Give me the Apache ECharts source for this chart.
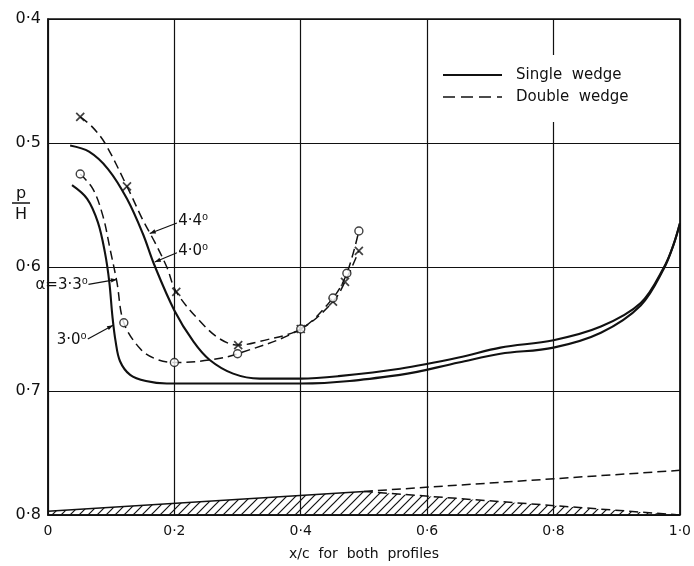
<!DOCTYPE html>
<html>
<head>
<meta charset="utf-8">
<script src="https://cdn.jsdelivr.net/npm/echarts@6/dist/echarts.min.js"></script>
<style>html,body{margin:0;padding:0;background:#fff}#c{width:694px;height:566px}</style>
</head>
<body>
<div id="c"></div>
<script>
// ---------- data ----------
const xTickLabels = ['0', '0·2', '0·4', '0·6', '0·8', '1·0'];
const yTickLabels = ['0·4', '0·5', '0·6', '0·7', '0·8'];
const legendNames = ['Single wedge', 'Double wedge'];

// Single wedge, alpha = 4.0 deg (solid)
const sw40X = [0.035, 0.065, 0.095, 0.125, 0.150, 0.168, 0.200, 0.230, 0.256, 0.293, 0.335, 0.400, 0.460, 0.557, 0.650, 0.716, 0.800, 0.875, 0.938, 0.975, 0.990, 1.000];
const sw40Y = [0.502, 0.507, 0.521, 0.545, 0.573, 0.598, 0.635, 0.660, 0.675, 0.686, 0.690, 0.690, 0.688, 0.682, 0.673, 0.665, 0.659, 0.648, 0.629, 0.600, 0.582, 0.565];
// Single wedge, alpha = 3.3 deg (solid)
const sw33X = [0.038, 0.062, 0.079, 0.090, 0.097, 0.102, 0.107, 0.114, 0.130, 0.155, 0.188, 0.250, 0.300, 0.400, 0.557, 0.650, 0.716, 0.800, 0.875, 0.938, 0.975, 0.990, 1.000];
const sw33Y = [0.534, 0.545, 0.564, 0.588, 0.612, 0.640, 0.660, 0.676, 0.687, 0.692, 0.694, 0.694, 0.694, 0.694, 0.687, 0.677, 0.670, 0.665, 0.653, 0.631, 0.601, 0.582, 0.565];
// Double wedge, alpha = 4.4 deg (dashed, x markers)
const dw44X = [0.051, 0.070, 0.090, 0.125, 0.150, 0.169, 0.188, 0.203, 0.241, 0.272, 0.301, 0.335, 0.400, 0.451, 0.470, 0.492];
const dw44Y = [0.479, 0.487, 0.500, 0.535, 0.562, 0.580, 0.600, 0.620, 0.644, 0.658, 0.663, 0.660, 0.650, 0.628, 0.612, 0.587];
const dw44MarkX = [0.051, 0.125, 0.203, 0.301, 0.400, 0.451, 0.470, 0.492];
const dw44MarkY = [0.479, 0.535, 0.620, 0.663, 0.650, 0.628, 0.612, 0.587];
// Double wedge, alpha = 3.0 deg (dashed, o markers)
const dw30X = [0.051, 0.071, 0.087, 0.098, 0.109, 0.120, 0.146, 0.170, 0.200, 0.256, 0.300, 0.400, 0.451, 0.473, 0.492];
const dw30Y = [0.525, 0.537, 0.559, 0.585, 0.612, 0.645, 0.666, 0.674, 0.677, 0.675, 0.670, 0.650, 0.625, 0.605, 0.571];
const dw30MarkX = [0.051, 0.120, 0.200, 0.300, 0.400, 0.451, 0.473, 0.492];
const dw30MarkY = [0.525, 0.645, 0.677, 0.670, 0.650, 0.625, 0.605, 0.571];

// Profiles drawn along the bottom
const profFrontX = [0, 0.5];
const profFrontY = [0.797, 0.781];
const doubleRearX = [0.5, 1.0];
const doubleRearY = [0.781, 0.800];
const singleRearX = [0.5, 1.0];
const singleRearY = [0.781, 0.764];
const doubleProfX = [0, 0.5, 1.0];
const doubleProfY = [0.797, 0.781, 0.800];

// annotation texts
const annTexts = ['4·4⁰', '4·0⁰', 'α=3·3⁰', '3·0⁰'];
// ---------- end data ----------

const zip = (xs, ys) => xs.map((x, i) => [x, ys[i]]);
const INK = '#111';
const FONT = 'DejaVu Sans';

function hatchCanvas() {
  const s = 9;
  const c = document.createElement('canvas');
  c.width = s; c.height = s;
  const g = c.getContext('2d');
  g.strokeStyle = INK; g.lineWidth = 1.2;
  g.beginPath();
  g.moveTo(0, s); g.lineTo(s, 0);
  g.moveTo(-2, 2); g.lineTo(2, -2);
  g.moveTo(s - 2, s + 2); g.lineTo(s + 2, s - 2);
  g.stroke();
  return c;
}

const chart = echarts.init(document.getElementById('c'), null, {renderer: 'canvas'});

const solidStyle = {color: INK, width: 2.1, type: 'solid'};
const dashStyle = {color: INK, width: 1.5, type: [9, 5]};

const option = {
  backgroundColor: '#fff',
  animation: false,
  color: [INK],
  textStyle: {fontFamily: FONT, color: INK},
  grid: {left: 48, right: 14, top: 19, bottom: 48, show: true, borderColor: INK, borderWidth: 1.5, backgroundColor: 'transparent'},
  xAxis: {
    type: 'value', min: 0, max: 1, interval: 0.2,
    name: 'x/c  for  both  profiles', nameLocation: 'middle', nameGap: 32,
    nameTextStyle: {fontFamily: FONT, fontSize: 14, color: INK},
    axisLine: {show: true, lineStyle: {color: INK, width: 1.5}},
    axisTick: {show: false},
    axisLabel: {fontFamily: FONT, fontSize: 14, color: INK, margin: 9,
      formatter: v => xTickLabels[Math.round(v / 0.2)]},
    splitLine: {show: true, lineStyle: {color: INK, width: 1.2}}
  },
  yAxis: {
    type: 'value', min: 0.4, max: 0.8, interval: 0.1, inverse: true,
    axisLine: {show: true, lineStyle: {color: INK, width: 1.5}},
    axisTick: {show: false},
    axisLabel: {fontFamily: FONT, fontSize: 16, color: INK, margin: 7,
      formatter: v => yTickLabels[Math.round((v - 0.4) / 0.1)]},
    splitLine: {show: true, lineStyle: {color: INK, width: 1.2}}
  },
  series: [
    {name: 'Double wedge profile', type: 'line', data: zip(doubleProfX, doubleProfY), symbol: 'none',
      lineStyle: {width: 0, opacity: 0},
      areaStyle: {color: {image: hatchCanvas(), repeat: 'repeat'}, origin: 'end', opacity: 1}, z: 1},
    {name: 'Profile front', type: 'line', data: zip(profFrontX, profFrontY), symbol: 'none', lineStyle: {color: INK, width: 1.6}, z: 3},
    {name: 'Double wedge rear', type: 'line', data: zip(doubleRearX, doubleRearY), symbol: 'none', lineStyle: {color: INK, width: 1.5, type: [9, 5]}, z: 3},
    {name: 'Single wedge rear', type: 'line', data: zip(singleRearX, singleRearY), symbol: 'none', lineStyle: {color: INK, width: 1.5, type: [9, 5]}, z: 3},

    {name: legendNames[0], type: 'line', data: zip(sw40X, sw40Y), symbol: 'none', smooth: 0.35, lineStyle: solidStyle, z: 4},
    {name: legendNames[0], type: 'line', data: zip(sw33X, sw33Y), symbol: 'none', smooth: 0.35, lineStyle: solidStyle, z: 4},
    {name: legendNames[1], type: 'line', data: zip(dw44X, dw44Y), symbol: 'none', smooth: 0.35, lineStyle: dashStyle, z: 4},
    {name: legendNames[1], type: 'line', data: zip(dw30X, dw30Y), symbol: 'none', smooth: 0.35, lineStyle: dashStyle, z: 4},

    {name: 'x markers', type: 'scatter', data: zip(dw44MarkX, dw44MarkY),
      symbol: 'path://M0,0L10,10M10,0L0,10', symbolSize: 8,
      itemStyle: {color: 'rgba(0,0,0,0)', borderColor: INK, borderWidth: 1.7}, z: 6},
    {name: 'o markers', type: 'scatter', data: zip(dw30MarkX, dw30MarkY),
      symbol: 'circle', symbolSize: 8,
      itemStyle: {color: '#fff', borderColor: INK, borderWidth: 1.4}, z: 6}
  ]
};
chart.setOption(option);

// annotations, anchored in data coordinates
const annLayout = [
  {text: annTexts[0], pos: [0.206, 0.563], align: 'left', from: [0.204, 0.5645], to: [0.161, 0.573]},
  {text: annTexts[1], pos: [0.206, 0.587], align: 'left', from: [0.204, 0.5885], to: [0.169, 0.596]},
  {text: annTexts[2], pos: [0.063, 0.615], align: 'right', from: [0.064, 0.614], to: [0.109, 0.610]},
  {text: annTexts[3], pos: [0.061, 0.659], align: 'right', from: [0.063, 0.658], to: [0.103, 0.647]}
];
const px = p => chart.convertToPixel({gridIndex: 0}, p);
const graphics = [];
annLayout.forEach(a => {
  const p = px(a.pos), f = px(a.from), t = px(a.to);
  graphics.push({type: 'text', x: p[0], y: p[1], z: 20,
    style: {text: a.text, fill: INK, font: '15px "DejaVu Sans"', textAlign: a.align, textVerticalAlign: 'middle'}});
  graphics.push({type: 'line', z: 20, shape: {x1: f[0], y1: f[1], x2: t[0], y2: t[1]}, style: {stroke: INK, lineWidth: 1.2}});
  const dx = t[0] - f[0], dy = t[1] - f[1], L = Math.hypot(dx, dy), ux = dx / L, uy = dy / L;
  const b = [t[0] - ux * 6, t[1] - uy * 6];
  graphics.push({type: 'polygon', z: 20, shape: {points: [t, [b[0] - uy * 2.2, b[1] + ux * 2.2], [b[0] + uy * 2.2, b[1] - ux * 2.2]]}, style: {fill: INK}});
});

// legend box (white background interrupts the grid lines)
graphics.push({type: 'rect', z: 15, shape: {x: 436, y: 55, width: 200, height: 67}, style: {fill: '#fff'}});
graphics.push({type: 'line', z: 16, shape: {x1: 443, y1: 75, x2: 502, y2: 75}, style: {stroke: INK, lineWidth: 2}});
graphics.push({type: 'line', z: 16, shape: {x1: 443, y1: 97, x2: 502, y2: 97}, style: {stroke: INK, lineWidth: 1.6, lineDash: [12, 6]}});
graphics.push({type: 'text', z: 16, x: 516, y: 75, style: {text: legendNames[0].replace(' ', '  '), fill: INK, font: '15px "DejaVu Sans"', textAlign: 'left', textVerticalAlign: 'middle'}});
graphics.push({type: 'text', z: 16, x: 516, y: 97, style: {text: legendNames[1].replace(' ', '  '), fill: INK, font: '15px "DejaVu Sans"', textAlign: 'left', textVerticalAlign: 'middle'}});

// y-axis name as a fraction p / H
graphics.push({type: 'text', x: 21, y: 194, style: {text: 'p', fill: INK, font: '16px "DejaVu Sans"', textAlign: 'center', textVerticalAlign: 'middle'}});
graphics.push({type: 'line', shape: {x1: 12, y1: 203, x2: 30, y2: 203}, style: {stroke: INK, lineWidth: 1.5}});
graphics.push({type: 'text', x: 21, y: 215, style: {text: 'H', fill: INK, font: '16px "DejaVu Sans"', textAlign: 'center', textVerticalAlign: 'middle'}});
chart.setOption({graphic: graphics});
</script>
</body>
</html>
